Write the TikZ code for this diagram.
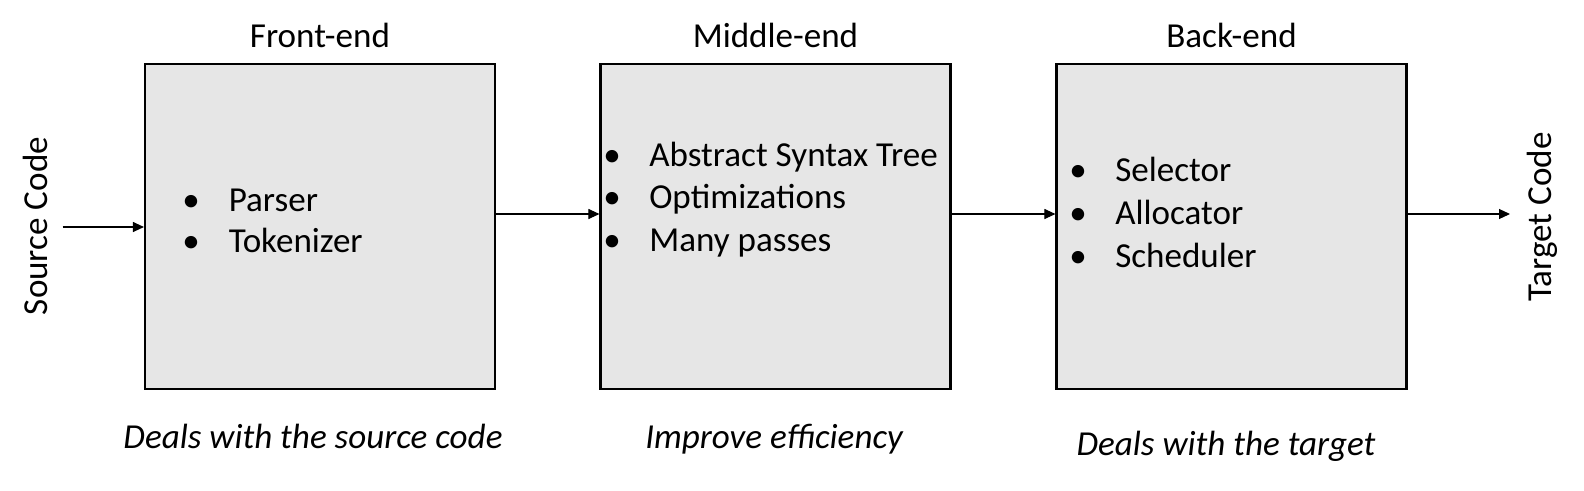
\documentclass[tikz,border=0pt]{standalone}
\usepackage{fontspec}
\setmainfont{Carlito}
\usetikzlibrary{arrows.meta}
\definecolor{boxfill}{HTML}{E6E6E6}
\tikzset{
  stagebox/.style={draw=black, line width=1.6pt, fill=boxfill, minimum width=262.5pt, minimum height=243.75pt, inner sep=0pt},
  lbl/.style={font=\fontsize{26.3}{30}\selectfont, inner sep=0pt, anchor=base},
  note/.style={font=\fontsize{26.3}{30}\selectfont\itshape, inner sep=0pt, anchor=base},
  itm/.style={font=\fontsize{26.3}{30}\selectfont, inner sep=0pt, anchor=base west},
  arr/.style={line width=0.8pt, -{Triangle[length=8.25pt,width=7.5pt]}}
}
\begin{document}
\begin{tikzpicture}[x=0.75pt,y=-0.75pt]
\useasboundingbox[fill=white] (0,0) rectangle (1584,490);
\node[stagebox] (fe) at (320,226.5) {};
\node[stagebox] (me) at (775.5,226.5) {};
\node[stagebox] (be) at (1231.5,226.5) {};
\node[lbl] (fet) at (320,47) {Front-end};
\node[lbl] (met) at (775.5,47) {Middle-end};
\node[lbl] (bet) at (1231.5,47) {Back-end};
\node[lbl, rotate=90] (src) at (47,226) {Source Code};
\node[lbl, rotate=90] (tgt) at (1551,217) {Target Code};
% items
\node[itm] (p1b) at (182,211) {\textbullet};
\node[itm] (p1) at (228.5,211) {Parser};
\node[itm] (p2b) at (182,252.5) {\textbullet};
\node[itm] (p2) at (228.5,252.5) {Tokenizer};
\node[itm] (m1b) at (603,166) {\textbullet};
\node[itm] (m1) at (649,166) {Abstract Syntax Tree};
\node[itm] (m2b) at (603,208.5) {\textbullet};
\node[itm] (m2) at (649,208.5) {Optimizations};
\node[itm] (m3b) at (603,251) {\textbullet};
\node[itm] (m3) at (649,251) {Many passes};
\node[itm] (b1b) at (1069,181) {\textbullet};
\node[itm] (b1) at (1115,181) {Selector};
\node[itm] (b2b) at (1069,224) {\textbullet};
\node[itm] (b2) at (1115,224) {Allocator};
\node[itm] (b3b) at (1069,267) {\textbullet};
\node[itm] (b3) at (1115,267) {Scheduler};
% notes
\node[note] (fen) at (313,448) {Deals with the source code};
\node[note] (men) at (774,448) {Improve efficiency};
\node[note] (ben) at (1226,455) {Deals with the target};
% arrows
\coordinate (start) at (62.5,227);
\coordinate (yl) at (0,214);
\coordinate (finish) at (1510,214);
\draw[arr] (start) -- (start -| fe.west);
\draw[arr] (fe.east |- yl) -- (me.west |- yl);
\draw[arr] (me.east |- yl) -- (be.west |- yl);
\draw[arr] (be.east |- yl) -- (finish);
\end{tikzpicture}
\end{document}
